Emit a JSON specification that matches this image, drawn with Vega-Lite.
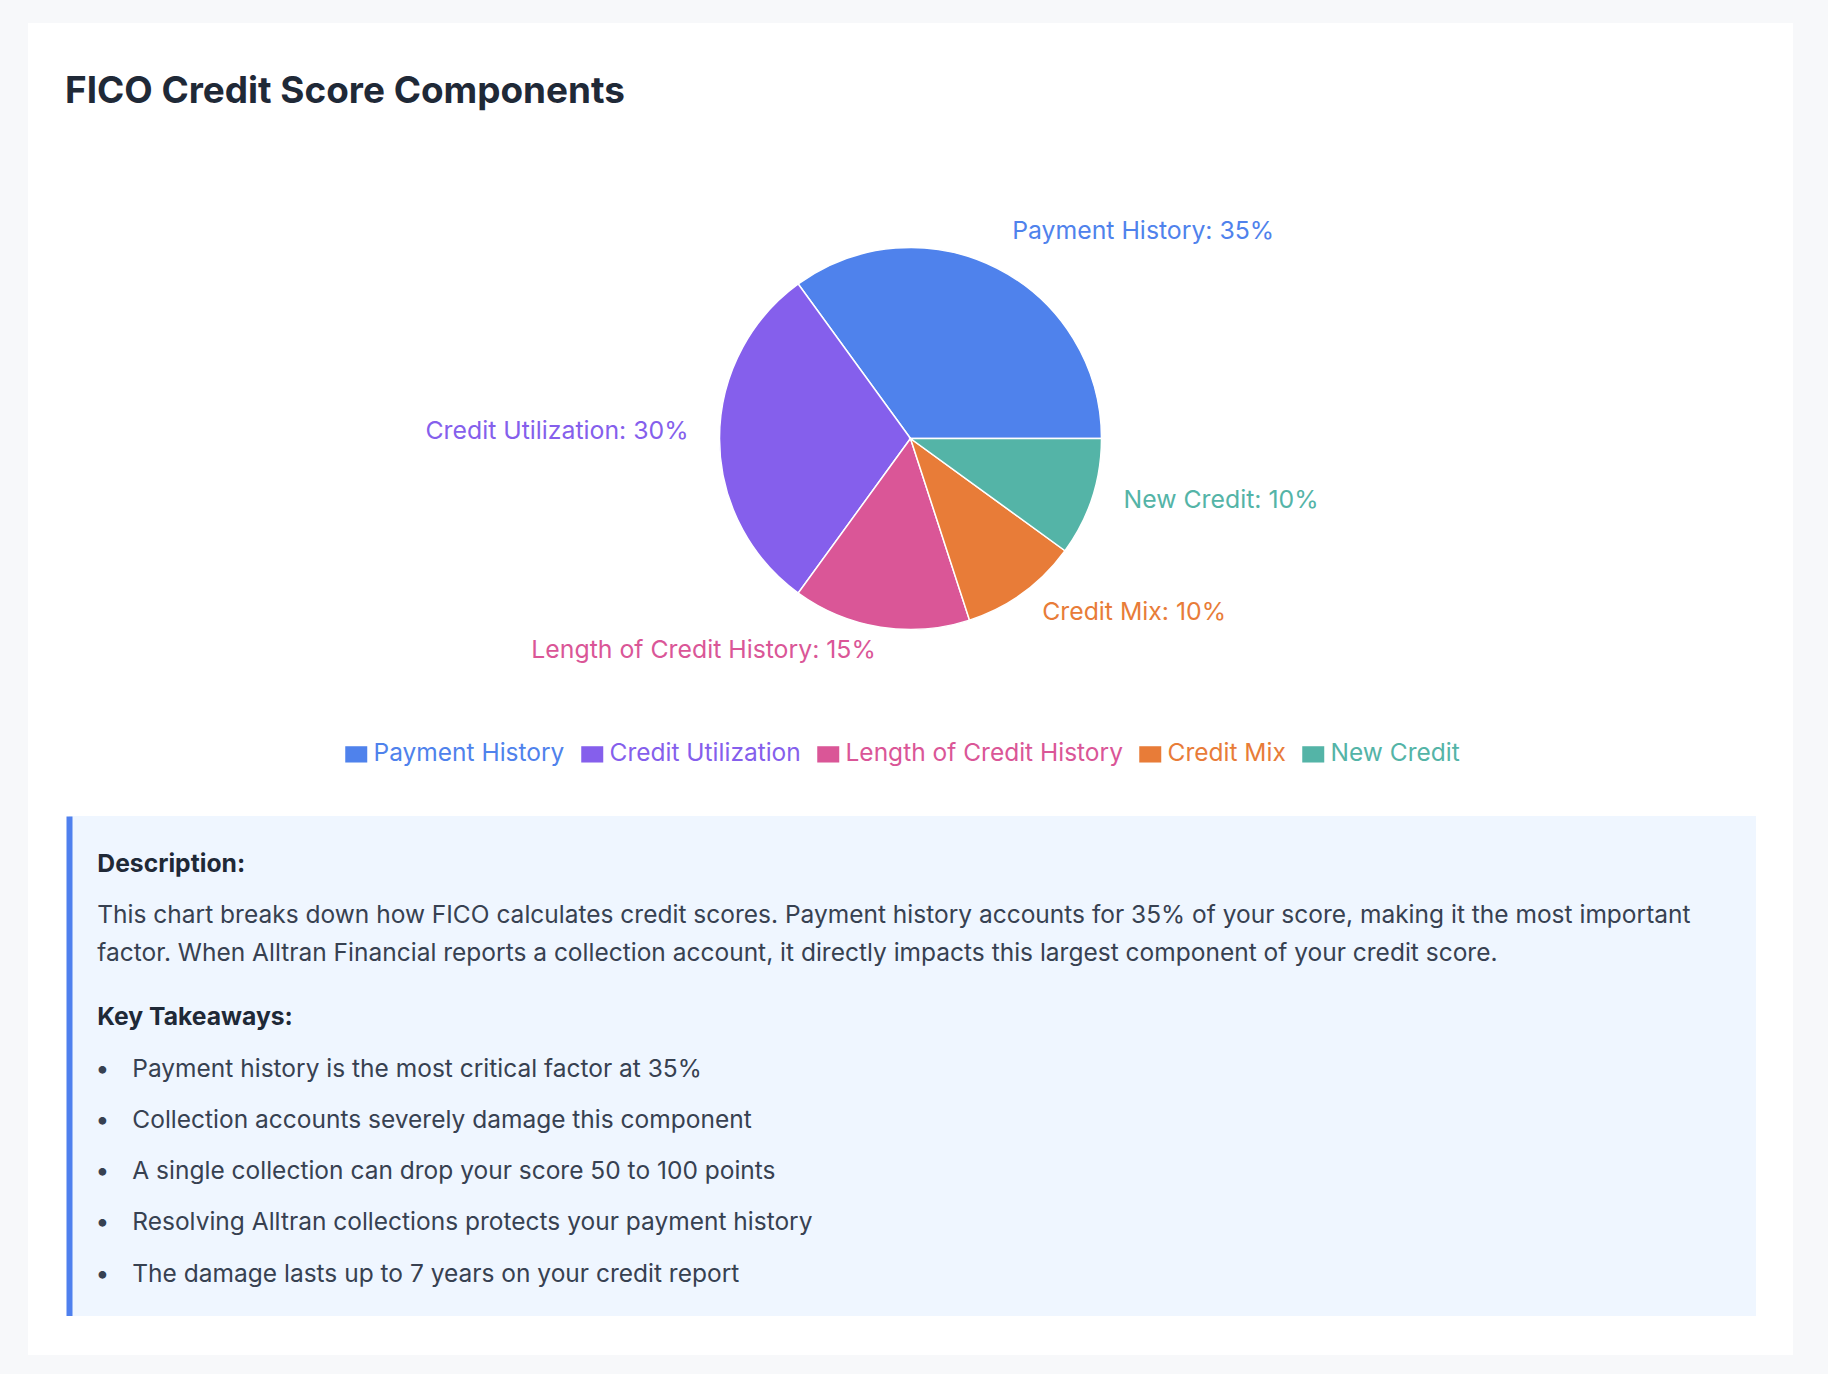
{
  "$schema": "https://vega.github.io/schema/vega-lite/v6.json",
  "background": "#f7f8fa",
  "padding": {"left": 28, "top": 23, "right": 35, "bottom": 19},
  "config": {
    "font": "Inter",
    "view": {"stroke": null},
    "concat": {"spacing": 0}
  },
  "bounds": "full",
  "spacing": 0,
  "vconcat": [
    {
      "width": 1765,
      "height": 38,
      "view": {"fill": "white", "stroke": null},
      "data": {"values": []},
      "mark": "point"
    },
    {
      "width": 1765,
      "height": 755,
      "view": {"fill": "white", "stroke": null},
      "title": {
        "text": "FICO Credit Score Components",
        "anchor": "start",
        "frame": "group",
        "orient": "top",
        "offset": -78.5,
        "dx": 37,
        "baseline": "alphabetic",
        "font": "Inter",
        "fontSize": 36.9,
        "fontWeight": 700,
        "color": "#1f2937"
      },
      "data": {
        "values": [
          {"component": "Payment History", "share": 35},
          {"component": "Credit Utilization", "share": 30},
          {"component": "Length of Credit History", "share": 15},
          {"component": "Credit Mix", "share": 10},
          {"component": "New Credit", "share": 10}
        ]
      },
      "transform": [
        {"window": [{"op": "row_number", "as": "idx"}]},
        {"calculate": "datum.component + ': ' + datum.share + '%'", "as": "label"}
      ],
      "encoding": {
        "theta": {
          "field": "share",
          "type": "quantitative",
          "stack": true,
          "scale": {"range": [1.5707963, -4.712389]}
        },
        "order": {"field": "idx", "type": "quantitative"},
        "color": {
          "field": "component",
          "type": "nominal",
          "scale": {
            "domain": ["Payment History", "Credit Utilization", "Length of Credit History", "Credit Mix", "New Credit"],
            "range": ["#4f82ec", "#855fec", "#da5697", "#e87c38", "#54b4a7"]
          },
          "legend": {
            "orient": "none",
            "legendX": 316,
            "legendY": 719,
            "direction": "horizontal",
            "title": null,
            "padding": 0,
            "symbolType": "M-1,-0.74H1V0.74H-1Z",
            "symbolSize": 484,
            "symbolStrokeWidth": 0,
            "symbolOpacity": 1,
            "labelFont": "Inter",
            "labelFontSize": 24.5,
            "labelOffset": 5,
            "labelLimit": 600,
            "columnPadding": 15,
            "encode": {
              "labels": {"update": {"fill": {"scale": "color", "field": "value"}}}
            }
          }
        }
      },
      "layer": [
        {
          "mark": {"type": "arc", "radius": 191, "stroke": "white", "strokeWidth": 1.5}
        },
        {
          "mark": {"type": "text", "radius": 224, "align": "left", "baseline": "alphabetic", "fontSize": 24.8},
          "encoding": {
            "text": {
              "condition": {
                "test": "indexof(['Payment History', 'Credit Mix', 'New Credit'], datum.component) >= 0",
                "field": "label",
                "type": "nominal"
              },
              "value": ""
            }
          }
        },
        {
          "mark": {"type": "text", "radius": 222, "align": "right", "baseline": "alphabetic", "fontSize": 24.8},
          "encoding": {
            "text": {
              "condition": {
                "test": "indexof(['Credit Utilization', 'Length of Credit History'], datum.component) >= 0",
                "field": "label",
                "type": "nominal"
              },
              "value": ""
            }
          }
        }
      ]
    },
    {
      "bounds": "flush",
      "spacing": 0,
      "hconcat": [
        {
          "width": 41,
          "height": 500,
          "view": {"fill": "white", "stroke": null},
          "data": {"values": []},
          "mark": "point"
        },
        {
          "width": 1687,
          "height": 500,
          "view": {"fill": "#eff6ff", "stroke": null},
          "data": {
            "values": [
              {"line": 0, "indent": 0, "kind": "heading", "text": "Description:"},
              {"line": 1, "indent": 0, "kind": "body", "text": "This chart breaks down how FICO calculates credit scores. Payment history accounts for 35% of your score, making it the most important\nfactor. When Alltran Financial reports a collection account, it directly impacts this largest component of your credit score."},
              {"line": 3, "indent": 0, "kind": "heading", "text": "Key Takeaways:"},
              {"line": 4, "indent": 1, "kind": "bullet", "text": "Payment history is the most critical factor at 35%"},
              {"line": 5, "indent": 1, "kind": "bullet", "text": "Collection accounts severely damage this component"},
              {"line": 6, "indent": 1, "kind": "bullet", "text": "A single collection can drop your score 50 to 100 points"},
              {"line": 7, "indent": 1, "kind": "bullet", "text": "Resolving Alltran collections protects your payment history"},
              {"line": 8, "indent": 1, "kind": "bullet", "text": "The damage lasts up to 7 years on your credit report"}
            ]
          },
          "encoding": {
            "y": {
              "field": "line",
              "type": "quantitative",
              "scale": {"domain": [-1.087, 8.669], "reverse": true, "nice": false, "zero": false},
              "axis": {
                "labels": false,
                "ticks": false,
                "grid": false,
                "title": null,
                "domain": true,
                "domainColor": "#4f80ee",
                "domainWidth": 6,
                "domainCap": "butt"
              }
            }
          },
          "layer": [
            {
              "transform": [{"filter": "datum.kind === 'heading'"}],
              "mark": {"type": "text", "align": "left", "baseline": "alphabetic", "fontSize": 24.7, "fontWeight": 700, "color": "#1f2937"},
              "encoding": {
                "x": {"field": "indent", "type": "quantitative", "scale": {"domain": [0, 1], "range": [28.3, 63.3]}, "axis": null},
                "text": {"field": "text", "type": "nominal"}
              }
            },
            {
              "transform": [{"filter": "datum.kind === 'body'"}],
              "mark": {"type": "text", "align": "left", "baseline": "alphabetic", "fontSize": 24.5, "color": "#374151", "lineBreak": "\n", "lineHeight": 38},
              "encoding": {
                "x": {"field": "indent", "type": "quantitative", "scale": {"domain": [0, 1], "range": [28.3, 63.3]}, "axis": null},
                "text": {"field": "text", "type": "nominal"}
              }
            },
            {
              "transform": [{"filter": "datum.kind === 'bullet'"}],
              "mark": {"type": "text", "align": "left", "baseline": "alphabetic", "fontSize": 24.5, "color": "#374151"},
              "encoding": {
                "x": {"field": "indent", "type": "quantitative", "scale": {"domain": [0, 1], "range": [28.3, 63.3]}, "axis": null},
                "text": {"field": "text", "type": "nominal"}
              }
            },
            {
              "transform": [{"filter": "datum.kind === 'bullet'"}],
              "mark": {"type": "text", "align": "center", "baseline": "alphabetic", "fontSize": 24.5, "color": "#374151", "dx": 5},
              "encoding": {
                "x": {"datum": 0, "type": "quantitative", "scale": {"domain": [0, 1], "range": [28.3, 63.3]}, "axis": null},
                "text": {"value": "•"}
              }
            }
          ]
        },
        {
          "width": 37,
          "height": 500,
          "view": {"fill": "white", "stroke": null},
          "data": {"values": []},
          "mark": "point"
        }
      ]
    },
    {
      "width": 1765,
      "height": 39,
      "view": {"fill": "white", "stroke": null},
      "data": {"values": []},
      "mark": "point"
    }
  ]
}
